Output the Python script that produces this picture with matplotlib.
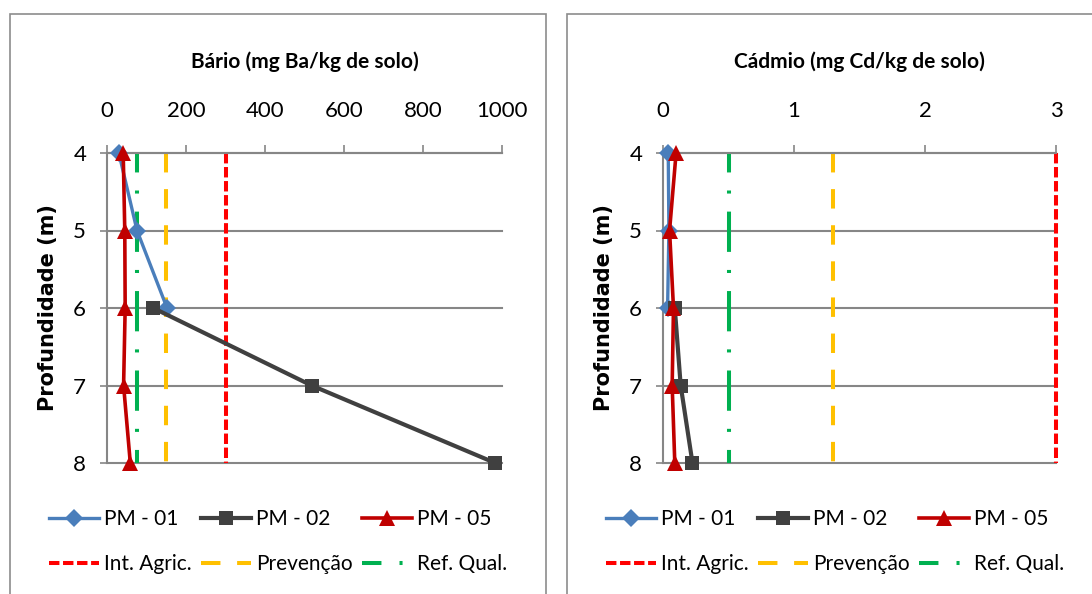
import numpy as np
import matplotlib
matplotlib.use("Agg")
import matplotlib.pyplot as plt
from matplotlib.patches import Rectangle

plt.rcParams['font.family'] = ['Lato', 'DejaVu Sans']
plt.rcParams['lines.scale_dashes'] = False

# profundidades (m)
depths = [4, 5, 6, 7, 8]

# Bário (mg Ba/kg de solo)
ba_pm01 = [30, 76, 152, np.nan, np.nan]
ba_pm02 = [np.nan, np.nan, 117, 518, 983]
ba_pm05 = [41, 45, 46, 42, 59]
ba_limits = [300, 150, 75]          # Int. Agric., Prevenção, Ref. Qual.
ba_ticks = [0, 200, 400, 600, 800, 1000]

# Cádmio (mg Cd/kg de solo)
cd_pm01 = [0.04, 0.045, 0.035, np.nan, np.nan]
cd_pm02 = [np.nan, np.nan, 0.09, 0.135, 0.225]
cd_pm05 = [0.10, 0.05, 0.08, 0.07, 0.09]
cd_limits = [3, 1.3, 0.5]
cd_ticks = [0, 1, 2, 3]

series_names = ['PM - 01', 'PM - 02', 'PM - 05']
limit_names = ['Int. Agric.', 'Prevenção', 'Ref. Qual.']

W, H = 1092, 594
fig = plt.figure(figsize=(W / 100, H / 100), dpi=100)

grid_col = '#868686'

panels = [
    dict(title='Bário (mg Ba/kg de solo)', series=[ba_pm01, ba_pm02, ba_pm05],
         limits=ba_limits, ticks=ba_ticks, box=(10, 546), ax_px=(107, 502)),
    dict(title='Cádmio (mg Cd/kg de solo)', series=[cd_pm01, cd_pm02, cd_pm05],
         limits=cd_limits, ticks=cd_ticks, box=(567, 1103), ax_px=(663, 1056)),
]

for p in panels:
    # moldura do gráfico
    bx0, bx1 = p['box']
    fig.add_artist(Rectangle((bx0 / W, -0.05), (bx1 - bx0) / W, 1 - 14 / H + 0.05,
                             transform=fig.transFigure, fill=False,
                             edgecolor='#8c8c8c', lw=1.2))

    ax0, ax1 = p['ax_px']
    ax = fig.add_axes([ax0 / W, 1 - 463 / H, (ax1 - ax0) / W, (463 - 153) / H])

    # linhas de referência (valores orientadores)
    lim_styles = [
        dict(color='#FF0000', dashes=(7.5, 2.6)),
        dict(color='#FFC000', dashes=(14, 12)),
        dict(color='#00B050', dashes=(15, (29, 13, 2.2, 13))),
    ]
    lim_handles = []
    for v, name, st in zip(p['limits'], limit_names, lim_styles):
        ln, = ax.plot([v, v], [depths[0], depths[-1]], color=st['color'], lw=2.9,
                      label=name, zorder=2, clip_on=False,
                      solid_capstyle='butt', dash_capstyle='butt')
        d = st['dashes']
        if isinstance(d[1], tuple):
            ln.set_linestyle((d[0], d[1]))
        else:
            ln.set_dashes(d)
        lim_handles.append(ln)

    # séries dos poços
    styles = [
        dict(color='#4A7EBB', marker='D', ms=9.5, lw=2.4),
        dict(color='#404040', marker='s', ms=10, lw=3.0),
        dict(color='#C00000', marker='^', ms=11, lw=2.6),
    ]
    ser_handles = []
    for vals, name, st in zip(p['series'], series_names, styles):
        ln, = ax.plot(vals, depths, color=st['color'], marker=st['marker'],
                      markersize=st['ms'], lw=st['lw'], label=name,
                      markeredgewidth=0, zorder=4, clip_on=False)
        ser_handles.append(ln)

    ax.set_xlim(p['ticks'][0], p['ticks'][-1])
    ax.set_ylim(depths[-1], depths[0])
    ax.set_xticks(p['ticks'])
    ax.set_yticks(depths)
    ax.xaxis.tick_top()
    ax.tick_params(axis='x', direction='out', length=6, width=1.2, color=grid_col,
                   pad=17, labelsize=16)
    ax.tick_params(axis='y', direction='out', length=5, width=1.2, color=grid_col,
                   pad=10, labelsize=16)
    for s in ['bottom', 'right']:
        ax.spines[s].set_visible(False)
    for s in ['top', 'left']:
        ax.spines[s].set_color(grid_col)
        ax.spines[s].set_linewidth(1.5)
        ax.spines[s].set_zorder(3)
    ax.grid(axis='y', color=grid_col, lw=1.5, zorder=1)
    ax.set_axisbelow(True)
    for gl in ax.get_ygridlines():
        gl.set_clip_on(False)

    ax.text(0.5, 1 + (153 - 62) / 310, p['title'], transform=ax.transAxes,
            ha='center', va='center', fontsize=15, fontweight='bold')
    ax.text(-0.15, 0.5, 'Profundidade (m)', transform=ax.transAxes, rotation=90,
            ha='center', va='center', fontsize=15, fontweight='bold',
            family='DejaVu Sans')

    handles = [ser_handles[0], lim_handles[0], ser_handles[1], lim_handles[1],
               ser_handles[2], lim_handles[2]]
    ax.legend(handles=handles, ncol=3, loc='center',
              bbox_to_anchor=((bx0 + bx1) / 2 / W, 1 - 541.5 / H),
              bbox_transform=fig.transFigure, frameon=False, fontsize=15,
              handlelength=2.4, handletextpad=0.25, columnspacing=0.45,
              labelspacing=1.2)

fig.savefig('out.png', dpi=100)
